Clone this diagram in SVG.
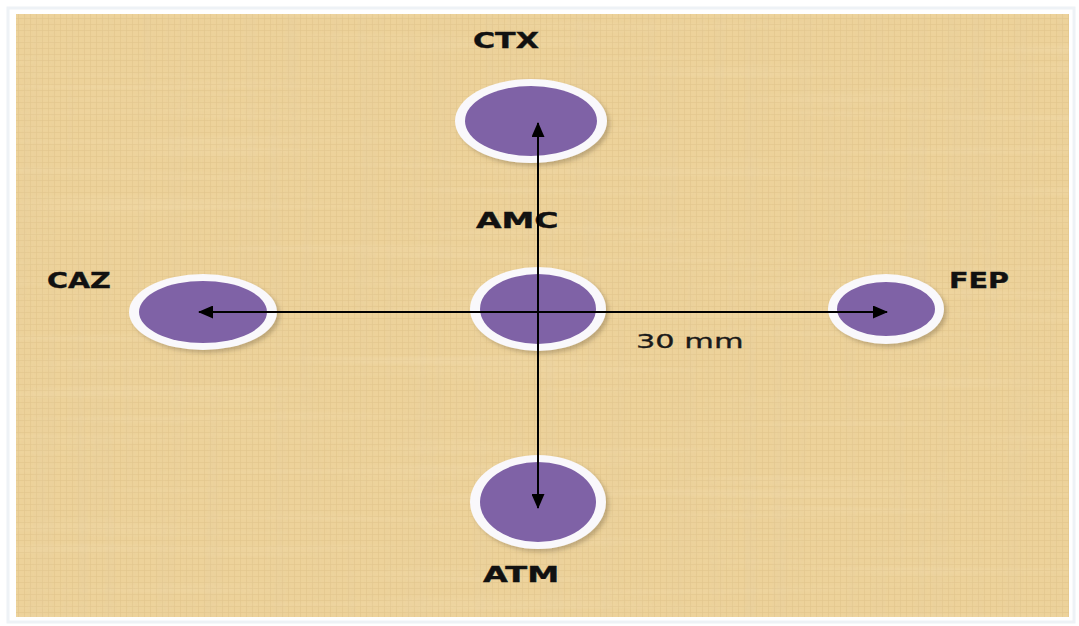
<svg xmlns="http://www.w3.org/2000/svg" width="1079" height="626" viewBox="0 0 1079 626">
  <defs>
    <style>
      .ring { fill: #f9f8fb; filter: url(#shadow); }
      .disc { fill: #7f62a6; }
      .lbl { font-family: "DejaVu Sans", "Liberation Sans", sans-serif; font-weight: bold; font-size: 22px; fill: #111; stroke: #111; stroke-width: 0.4; }
      .note { font-family: "DejaVu Sans", "Liberation Sans", sans-serif; font-size: 20px; fill: #1a1a1a; stroke: #1a1a1a; stroke-width: 0.3; }
      .conn { stroke: #000; stroke-width: 2; fill: none; }
    </style>
    <marker id="arrow" viewBox="0 0 15 13" refX="14" refY="6.5" markerWidth="15" markerHeight="13" markerUnits="userSpaceOnUse" orient="auto">
      <path d="M0,0 L15,6.5 L0,13 z" fill="#000"/>
    </marker>
    <filter id="shadow" x="-20%" y="-20%" width="150%" height="150%">
      <feDropShadow dx="3" dy="3" stdDeviation="2" flood-color="#6b5a3a" flood-opacity="0.35"/>
    </filter>
    <filter id="vgrain" x="0" y="0" width="100%" height="100%">
      <feTurbulence type="fractalNoise" baseFrequency="0.07 0.003" numOctaves="3" seed="4"/>
      <feColorMatrix type="matrix" values="0 0 0 0 0.78  0 0 0 0 0.62  0 0 0 0 0.36  0 0 0 1.2 -0.5"/>
    </filter>
    <filter id="hgrain" x="0" y="0" width="100%" height="100%">
      <feTurbulence type="fractalNoise" baseFrequency="0.003 0.09" numOctaves="2" seed="9"/>
      <feColorMatrix type="matrix" values="0 0 0 0 0.98  0 0 0 0 0.9  0 0 0 0 0.7  0 0 0 1.0 -0.5"/>
    </filter>
    <pattern id="weave" width="6" height="6" patternUnits="userSpaceOnUse">
      <path d="M0,0.5 H6 M0.5,0 V6" stroke="#b8955a" stroke-width="0.6" opacity="0.22"/>
    </pattern>
  </defs>

  <rect x="0" y="0" width="1079" height="626" fill="#ffffff"/>
  <rect x="8" y="8" width="1066" height="614" fill="none" stroke="#eef2f6" stroke-width="3"/>
  <g id="background">
    <rect x="16" y="14" width="1053" height="603" fill="#edd29a"/>
    <rect x="16" y="14" width="1053" height="603" fill="url(#weave)"/>
    <rect x="16" y="14" width="1053" height="603" filter="url(#vgrain)" opacity="0.55"/>
    <rect x="16" y="14" width="1053" height="603" filter="url(#hgrain)" opacity="0.3"/>
  </g>

  <g id="node-ctx">
    <ellipse class="ring" cx="531" cy="121" rx="76" ry="42"/>
    <ellipse class="disc" cx="531" cy="121" rx="66" ry="35"/>
    <text class="lbl" transform="translate(473,48) scale(1.37,1)">CTX</text>
  </g>
  <g id="node-amc">
    <ellipse class="ring" cx="538" cy="309" rx="68" ry="42"/>
    <ellipse class="disc" cx="538" cy="309" rx="58" ry="35"/>
    <text class="lbl" transform="translate(476,228) scale(1.5,1)">AMC</text>
  </g>
  <g id="node-caz">
    <ellipse class="ring" cx="203" cy="312" rx="74" ry="38"/>
    <ellipse class="disc" cx="203" cy="312" rx="64" ry="31"/>
    <text class="lbl" transform="translate(47,288) scale(1.3,1)">CAZ</text>
  </g>
  <g id="node-fep">
    <ellipse class="ring" cx="886" cy="309" rx="58" ry="35"/>
    <ellipse class="disc" cx="886" cy="309" rx="49" ry="27"/>
    <text class="lbl" transform="translate(949,288) scale(1.3,1)">FEP</text>
  </g>
  <g id="node-atm">
    <ellipse class="ring" cx="538" cy="502" rx="68" ry="47"/>
    <ellipse class="disc" cx="538" cy="502" rx="58" ry="40"/>
    <text class="lbl" transform="translate(483,582) scale(1.46,1)">ATM</text>
  </g>

  <g id="connectors">
    <line class="conn" x1="538" y1="312" x2="538" y2="123" marker-end="url(#arrow)"/>
    <line class="conn" x1="538" y1="312" x2="538" y2="508" marker-end="url(#arrow)"/>
    <line class="conn" x1="538" y1="312" x2="199" y2="312" marker-end="url(#arrow)"/>
    <line class="conn" x1="538" y1="312" x2="887" y2="312" marker-end="url(#arrow)"/>
  </g>

  <text id="label-30mm" class="note" transform="translate(636,348) scale(1.52,1)">30 mm</text>
</svg>
